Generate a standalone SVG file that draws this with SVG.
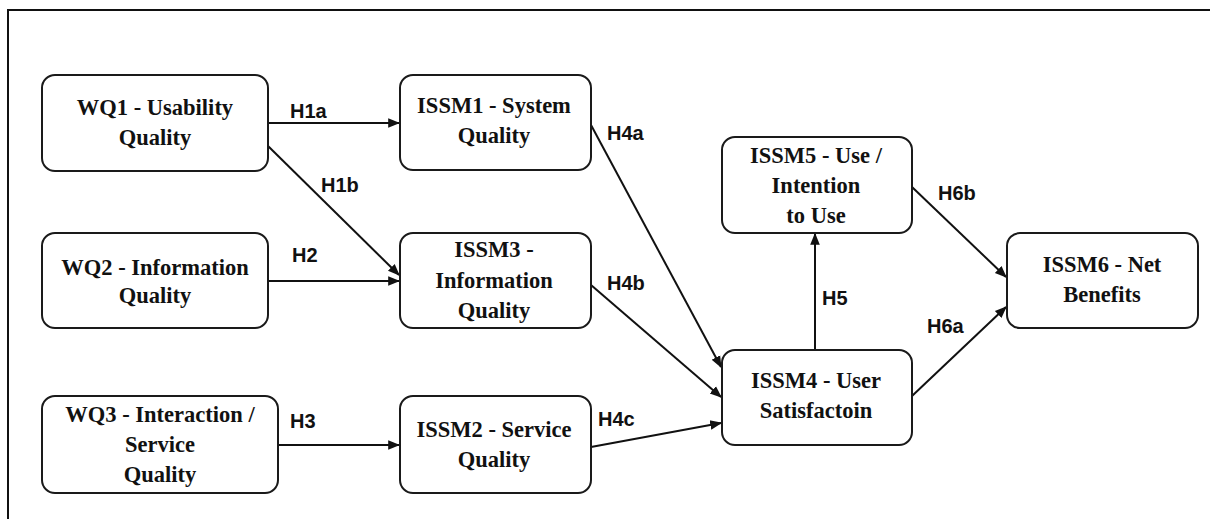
<svg xmlns="http://www.w3.org/2000/svg" width="1210" height="519" viewBox="0 0 1210 519">
<style>
.box{fill:#fff;stroke:#1a1a1a;stroke-width:2}
.t{font-family:"Liberation Serif","Times New Roman",serif;font-weight:bold;font-size:22.5px;fill:#111;text-anchor:middle}
.lbl{font-family:"Liberation Sans",Arial,sans-serif;font-weight:bold;font-size:20px;fill:#111}
.c{fill:none;stroke:#111;stroke-width:2;marker-end:url(#ah)}
</style>
<defs>
<marker id="ah" viewBox="0 0 10 10" refX="9" refY="5" markerWidth="6" markerHeight="6" markerUnits="strokeWidth" orient="auto">
<path d="M0,1 L10,5 L0,9 Z" fill="#111"/>
</marker>
</defs>
<rect width="1210" height="519" fill="#fff"/>
<g id="frame"><path d="M8,519 V10 H1210" fill="none" stroke="#111" stroke-width="2"/></g>
<g id="connectors">
<path class="c" d="M268,123 H399"/>
<path class="c" d="M268,146 L399,275"/>
<path class="c" d="M268,281 H399"/>
<path class="c" d="M278,445 H399"/>
<path class="c" d="M591,125 L721,367"/>
<path class="c" d="M591,285 L721,397"/>
<path class="c" d="M591,447 L721,423"/>
<path class="c" d="M815,350 V234"/>
<path class="c" d="M912,187 L1006,277"/>
<path class="c" d="M912,396 L1006,307"/>
<text class="lbl" x="290" y="118">H1a</text>
<text class="lbl" x="321" y="192">H1b</text>
<text class="lbl" x="292" y="262">H2</text>
<text class="lbl" x="290" y="428">H3</text>
<text class="lbl" x="607" y="140">H4a</text>
<text class="lbl" x="607" y="290">H4b</text>
<text class="lbl" x="598" y="426">H4c</text>
<text class="lbl" x="822" y="305">H5</text>
<text class="lbl" x="927" y="333">H6a</text>
<text class="lbl" x="938" y="200">H6b</text>
</g>
<g id="wq1"><rect class="box" x="42" y="75" width="226" height="96" rx="13"/><text class="t" x="155" y="115">WQ1 - Usability</text><text class="t" x="155" y="145">Quality</text></g>
<g id="wq2"><rect class="box" x="42" y="233" width="226" height="95" rx="13"/><text class="t" x="155" y="275">WQ2 - Information</text><text class="t" x="155" y="303">Quality</text></g>
<g id="wq3"><rect class="box" x="42" y="396" width="236" height="97" rx="13"/><text class="t" x="160" y="422">WQ3 - Interaction /</text><text class="t" x="160" y="452">Service</text><text class="t" x="160" y="482">Quality</text></g>
<g id="issm1"><rect class="box" x="400" y="75" width="191" height="95" rx="13"/><text class="t" x="494" y="113">ISSM1 - System</text><text class="t" x="494" y="143">Quality</text></g>
<g id="issm3"><rect class="box" x="400" y="233" width="191" height="95" rx="13"/><text class="t" x="494" y="257">ISSM3 -</text><text class="t" x="494" y="288">Information</text><text class="t" x="494" y="318">Quality</text></g>
<g id="issm2"><rect class="box" x="400" y="396" width="191" height="97" rx="13"/><text class="t" x="494" y="437">ISSM2 - Service</text><text class="t" x="494" y="467">Quality</text></g>
<g id="issm5"><rect class="box" x="722" y="137" width="190" height="96" rx="13"/><text class="t" x="816" y="163">ISSM5 - Use /</text><text class="t" x="816" y="193">Intention</text><text class="t" x="816" y="223">to Use</text></g>
<g id="issm4"><rect class="box" x="722" y="350" width="190" height="95" rx="13"/><text class="t" x="816" y="388">ISSM4 - User</text><text class="t" x="816" y="418">Satisfactoin</text></g>
<g id="issm6"><rect class="box" x="1007" y="233" width="191" height="95" rx="13"/><text class="t" x="1102" y="272">ISSM6 - Net</text><text class="t" x="1102" y="302">Benefits</text></g>
</svg>
